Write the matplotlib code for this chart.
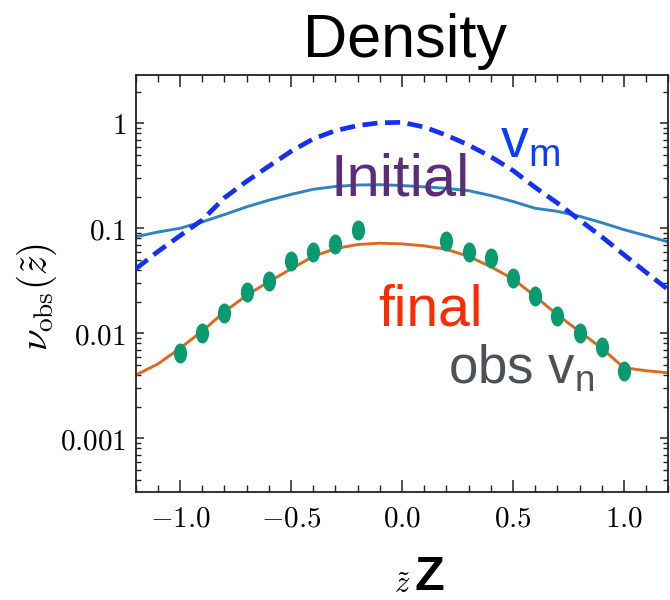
import numpy as np
import matplotlib
matplotlib.use("Agg")
import matplotlib.pyplot as plt
from matplotlib.path import Path
from matplotlib.ticker import FixedLocator, FixedFormatter, MultipleLocator, LogLocator, NullFormatter

plt.rcParams["mathtext.fontset"] = "cm"
plt.rcParams["mathtext.rm"] = "Liberation Sans"
plt.rcParams["font.family"] = ["Liberation Sans", "DejaVu Sans"]

# model profile v_m (dashed)
z_model = [-1.2, -1.1, -1.0, -0.9, -0.8, -0.7, -0.6, -0.5, -0.4, -0.3, -0.2, -0.1,
           0.0, 0.1, 0.2, 0.3, 0.4, 0.5, 0.6, 0.7, 0.8, 0.9, 1.0, 1.1, 1.2]
nu_model = [0.041, 0.060, 0.085, 0.12, 0.195, 0.28, 0.39, 0.54, 0.71, 0.85, 0.95, 1.01,
            1.02, 0.92, 0.77, 0.62, 0.48, 0.355, 0.245, 0.174, 0.12, 0.083, 0.056, 0.038, 0.026]

# initial profile
nu_initial = [0.083, 0.092, 0.100, 0.115, 0.135, 0.160, 0.185, 0.210, 0.235, 0.250, 0.258, 0.260,
              0.255, 0.248, 0.240, 0.228, 0.205, 0.180, 0.155, 0.145, 0.130, 0.113, 0.097, 0.085, 0.074]

# final profile
nu_final = [0.0040, 0.0051, 0.0072, 0.0105, 0.016, 0.023, 0.031, 0.041, 0.054, 0.064, 0.070, 0.072,
            0.071, 0.068, 0.063, 0.054, 0.043, 0.033, 0.0225, 0.015, 0.0104, 0.0072, 0.0047, 0.0044, 0.0042]

# observed points v_n
z_obs = [-1.0, -0.9, -0.8, -0.7, -0.6, -0.5, -0.4, -0.3, -0.2,
         0.2, 0.3, 0.4, 0.5, 0.6, 0.7, 0.8, 0.9, 1.0]
nu_obs = [0.00645, 0.0101, 0.0157, 0.0246, 0.0313, 0.0489, 0.059, 0.0713, 0.0964,
          0.0757, 0.059, 0.0518, 0.0334, 0.0228, 0.0146, 0.0101, 0.00745, 0.0044]

x_ticks = [-1.0, -0.5, 0.0, 0.5, 1.0]
x_ticklabels = ["$-1.0$", "$-0.5$", "$0.0$", "$0.5$", "$1.0$"]
y_ticks = [0.001, 0.01, 0.1, 1.0]
y_ticklabels = ["$0.001$", "$0.01$", "$0.1$", "$1$"]

W, H = 670, 600
fig = plt.figure(figsize=(W / 100, H / 100), dpi=100)
ax = fig.add_axes([135.7 / W, 107.7 / H, (668.3 - 135.7) / W, (525 - 107.7) / H])

ax.plot(z_model, nu_initial, color="#2F84C0", lw=2.1, zorder=2)
ax.plot(z_model, nu_model, color="#1530F0", lw=3.4, dashes=(3.2, 1.6), zorder=3)
ax.plot(z_model, nu_final, color="#DB6A20", lw=2.1, zorder=2)

# slightly tall elliptical dot marker
circ = Path.unit_circle()
ellipse = Path(circ.vertices * np.array([0.66, 1.0]), circ.codes)
ax.plot(z_obs, nu_obs, ls="none", marker=ellipse, ms=14.4, mew=0,
        color="#0A9A72", zorder=4)

ax.set_yscale("log")
ax.set_xlim(-1.2, 1.2)
ax.set_ylim(3.06e-4, 2.88)

ax.xaxis.set_major_locator(FixedLocator(x_ticks))
ax.xaxis.set_major_formatter(FixedFormatter(x_ticklabels))
ax.xaxis.set_minor_locator(MultipleLocator(0.1))
ax.yaxis.set_major_locator(FixedLocator(y_ticks))
ax.yaxis.set_major_formatter(FixedFormatter(y_ticklabels))
ax.yaxis.set_minor_locator(LogLocator(base=10, subs=np.arange(2, 10)))
ax.yaxis.set_minor_formatter(NullFormatter())

ax.tick_params(which="both", direction="in", top=True, right=True, color="#222222")
ax.tick_params(axis="x", which="major", length=8.6, width=1.1, labelsize=21, pad=9)
ax.tick_params(axis="x", which="minor", length=5.0, width=1.0)
ax.tick_params(axis="y", which="major", length=6.0, width=1.1, labelsize=21, pad=7)
ax.tick_params(axis="y", which="minor", length=3.6, width=1.0)
for s in ax.spines.values():
    s.set_linewidth(1.3)
    s.set_color("#222222")

# axis labels
fig.text(37 / W, 1 - 297 / H, r"$\nu_{\rm obs}(\tilde{z})$", rotation=90,
         ha="center", va="center", fontsize=28)
fig.text(402 / W, 1 - 585 / H, r"$\tilde{z}$", ha="center", va="center", fontsize=22)
fig.text(414 / W, 1 - 590 / H, "Z", ha="left", va="baseline", fontsize=35,
         fontweight="bold")

# title
fig.text(405 / W, 1 - 57 / H, "Density", ha="center", va="baseline", fontsize=44)

# curve annotations
fig.text(331 / W, 1 - 196 / H, "Initial", ha="left", va="baseline",
         fontsize=43, color="#5B2D7C")
fig.text(500 / W, 1 - 157 / H, r"v$_\mathrm{m}$", ha="left", va="baseline",
         fontsize=40, color="#0A3DFF", math_fontfamily="custom")
fig.text(378 / W, 1 - 325 / H, "final", ha="left", va="baseline",
         fontsize=41, color="#FF2A00")
fig.text(448 / W, 1 - 383 / H, r"obs v$_\mathrm{n}$", ha="left", va="baseline",
         fontsize=38, color="#4D5258", math_fontfamily="custom")

fig.savefig("out.png", dpi=100)
